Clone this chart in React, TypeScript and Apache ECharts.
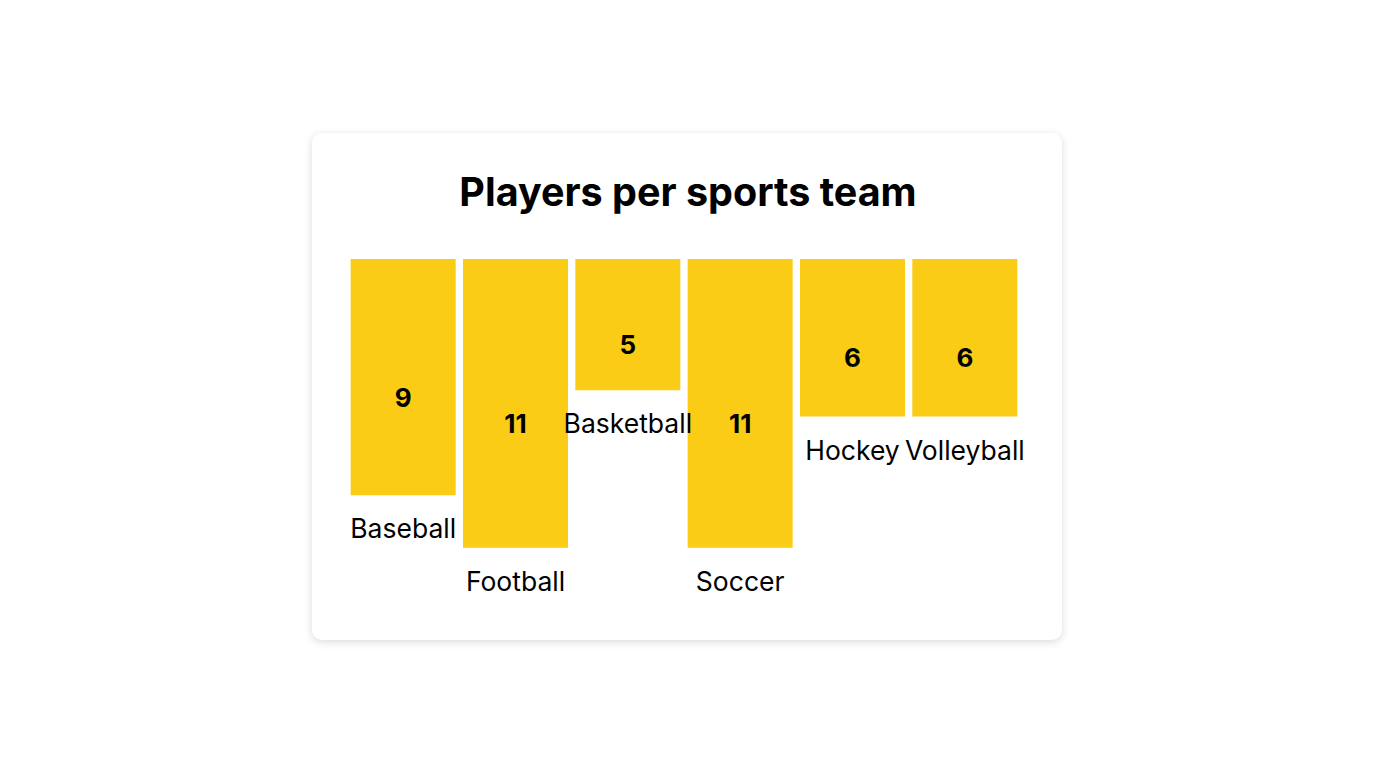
import React, { useEffect, useRef } from "react";
import * as echarts from "echarts";

const categories = ["Baseball", "Football", "Basketball", "Soccer", "Hockey", "Volleyball"];
const players = [9, 11, 5, 11, 6, 6];
const titleText = "Players per sports team";

export default function App() {
  const ref = useRef<HTMLDivElement>(null);

  useEffect(() => {
    document.body.style.margin = "0";
    if (!ref.current) return;
    const chart = echarts.init(ref.current, undefined, { renderer: "svg" });
    chart.setOption({
      animation: false,
      title: {
        text: titleText,
        left: "center",
        top: 163,
        textStyle: {
          fontFamily: "Inter",
          fontSize: 39.5,
          fontWeight: "bold",
          color: "#000000",
          lineHeight: 48,
        },
      },
      grid: { left: 347, width: 674, top: 259, height: 288.75 },
      xAxis: {
        type: "category",
        data: categories,
        show: false,
      },
      yAxis: {
        type: "value",
        min: 0,
        max: 11,
        inverse: true,
        show: false,
      },
      series: [
        {
          type: "bar",
          data: players,
          barWidth: 105,
          itemStyle: { color: "#FACC15" },
          label: {
            show: true,
            position: "bottom",
            distance: 20,
            formatter: "{b}",
            fontFamily: "Inter",
            fontSize: 26.5,
            lineHeight: 26,
            color: "#000000",
          },
        },
        {
          type: "bar",
          data: players,
          barWidth: 105,
          barGap: "-100%",
          itemStyle: { color: "rgba(0,0,0,0)" },
          label: {
            show: true,
            position: "inside",
            offset: [0, 20],
            formatter: "{c}",
            fontFamily: "Inter",
            fontSize: 26,
            fontWeight: "bold",
            color: "#000000",
          },
        },
      ],
    });
    return () => chart.dispose();
  }, []);

  return (
    <div style={{ position: "relative", width: 1376, height: 768, background: "#fff", overflow: "hidden" }}>
      <div
        style={{
          position: "absolute",
          left: 312,
          top: 133,
          width: 750,
          height: 507,
          background: "#fff",
          borderRadius: 10,
          boxShadow: "0 2px 8px rgba(0,0,0,0.15)",
        }}
      />
      <div ref={ref} style={{ position: "absolute", left: 0, top: 0, width: 1376, height: 768 }} />
    </div>
  );
}
